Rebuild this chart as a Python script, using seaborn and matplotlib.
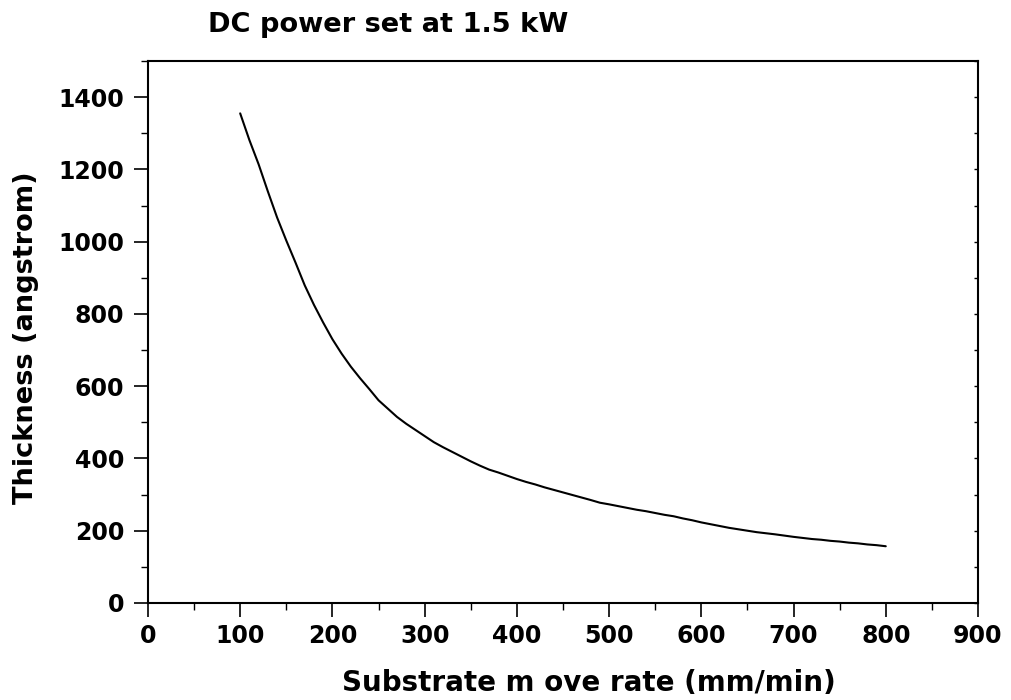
import numpy as np
import pandas as pd
import seaborn as sns
import matplotlib
matplotlib.use("Agg")
import matplotlib.pyplot as plt
from matplotlib.ticker import MultipleLocator

# Data
move_rate = [100, 110, 120, 130, 140, 150, 160, 170, 180, 190, 200, 210, 220, 230, 240,
             250, 260, 270, 280, 290, 300, 310, 320, 330, 340, 350, 360, 370, 380, 390,
             400, 410, 420, 430, 440, 450, 460, 470, 480, 490, 500, 510, 520, 530, 540,
             550, 560, 570, 580, 590, 600, 610, 620, 630, 640, 650, 660, 670, 680, 690,
             700, 710, 720, 730, 740, 750, 760, 770, 780, 790, 800]
thickness = [1355, 1281, 1214, 1139, 1067, 1003, 942, 879, 825, 776, 730, 690, 654, 622, 592,
             561, 538, 515, 496, 479, 462, 445, 431, 418, 405, 392, 380, 369, 361, 352,
             343, 335, 328, 320, 313, 306, 299, 292, 285, 277.5, 273, 268, 263, 258, 254,
             249, 244, 240, 234, 229, 223, 218, 213, 208, 204, 200, 196, 193, 190, 186.5,
             183, 180, 177, 175, 172, 170, 167, 165, 162, 160, 157]

title_text = "DC power set at 1.5 kW"
x_label = "Substrate m ove rate (mm/min)"
y_label = "Thickness (angstrom)"

df = pd.DataFrame({"rate": move_rate, "thickness": thickness})

sns.set_style("ticks")
plt.rcParams["font.family"] = ["DejaVu Sans"]
plt.rcParams["font.weight"] = "bold"
for k in ["text.color", "axes.labelcolor", "xtick.color", "ytick.color", "axes.edgecolor"]:
    plt.rcParams[k] = "black"

fig = plt.figure(figsize=(10.12, 7.0), dpi=100)
ax = fig.add_axes([0.1462, 0.1386, 0.8202, 0.7743])

sns.lineplot(data=df, x="rate", y="thickness", ax=ax, color="black", linewidth=1.5)

ax.set_xlim(0, 900)
ax.set_ylim(0, 1500)
ax.xaxis.set_major_locator(MultipleLocator(100))
ax.xaxis.set_minor_locator(MultipleLocator(50))
ax.yaxis.set_major_locator(MultipleLocator(200))
ax.yaxis.set_minor_locator(MultipleLocator(100))

for s in ax.spines.values():
    s.set_linewidth(1.5)
    s.set_color("black")
    s.set_visible(True)

ax.tick_params(axis="x", which="major", direction="out", length=10, width=1.2,
               labelsize=17, pad=5, colors="black")
ax.tick_params(axis="y", which="major", direction="out", length=10, width=1.2,
               labelsize=17, pad=7, colors="black")
ax.tick_params(axis="both", which="minor", direction="out", length=5, width=1.0,
               colors="black")

for lab in ax.get_xticklabels() + ax.get_yticklabels():
    lab.set_fontweight("bold")

# right-side small inward ticks
ax2 = ax.twinx()
ax2.set_ylim(0, 1500)
ax2.yaxis.set_major_locator(MultipleLocator(100))
ax2.tick_params(axis="y", which="major", direction="in", length=3, width=1.0,
                labelright=False, colors="black")
for s in ax2.spines.values():
    s.set_visible(False)

ax.set_xlabel(x_label, fontsize=20, fontweight="bold", va="top")
ax.xaxis.set_label_coords(0.531, -0.122)
ax.set_ylabel(y_label, fontsize=19.6, fontweight="bold")
ax.yaxis.set_label_coords(-0.131, 0.49)
ax.text(0.072, 1.0535, title_text, transform=ax.transAxes, fontsize=19.6,
        fontweight="bold", ha="left", va="baseline")

fig.savefig("out.png", dpi=100)
